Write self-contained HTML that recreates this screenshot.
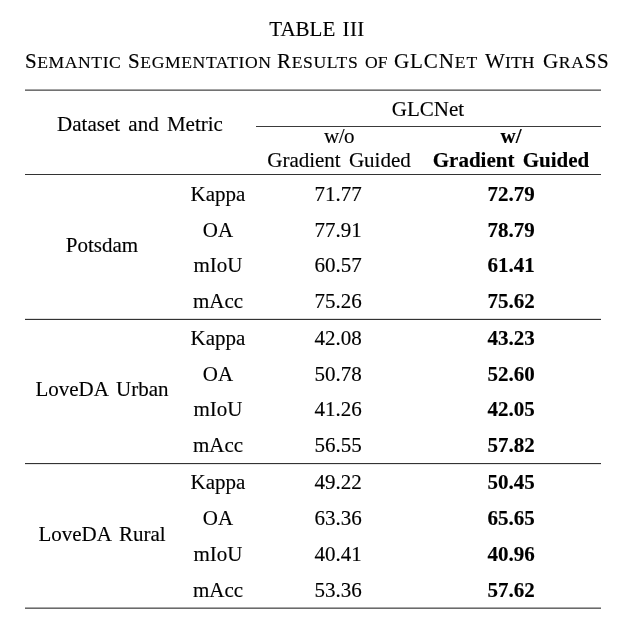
<!DOCTYPE html>
<html><head><meta charset="utf-8"><style>
html,body{margin:0;padding:0;background:#fff;}
body{width:624px;height:634px;position:relative;overflow:hidden;}
.t{position:absolute;will-change:transform;font-family:"Liberation Serif",serif;font-size:21px;line-height:21px;color:#000;text-align:center;white-space:nowrap;word-spacing:3px;-webkit-text-stroke:0.15px #000;}
.sc{font-size:17.6px;}
.r{position:absolute;}
</style></head><body>
<div class="t" style="left:167.10px;top:18.50px;width:300px;">TABLE <span style="letter-spacing:0.4px;margin-left:-1px">III</span></div>
<div class="t" style="left:25.10px;top:50.60px;text-align:left;letter-spacing:0.57px;">S<span class="sc">EMANTIC</span></div>
<div class="t" style="left:127.90px;top:50.60px;text-align:left;letter-spacing:0.61px;">S<span class="sc">EGMENTATION</span></div>
<div class="t" style="left:277.40px;top:50.60px;text-align:left;letter-spacing:0.63px;">R<span class="sc">ESULTS</span></div>
<div class="t" style="left:365.00px;top:50.60px;text-align:left;letter-spacing:0.00px;"><span class="sc">OF</span></div>
<div class="t" style="left:394.30px;top:50.60px;text-align:left;letter-spacing:0.90px;">GLCN<span class="sc">ET</span></div>
<div class="t" style="left:484.60px;top:50.60px;text-align:left;letter-spacing:0.13px;">W<span class="sc">ITH</span></div>
<div class="t" style="left:543.10px;top:50.60px;text-align:left;letter-spacing:0.68px;">G<span class="sc">RA</span>SS</div>
<div class="r" style="left:25px;top:89px;width:576px;height:1px;background:#a4a4a4"></div>
<div class="r" style="left:25px;top:90px;width:576px;height:1px;background:#727272"></div>
<div class="r" style="left:256px;top:126px;width:345px;height:1px;background:#3a3a3a"></div>
<div class="r" style="left:25px;top:174px;width:576px;height:1px;background:#333"></div>
<div class="r" style="left:25px;top:318px;width:576px;height:1px;background:#dedede"></div>
<div class="r" style="left:25px;top:319px;width:576px;height:1px;background:#333"></div>
<div class="r" style="left:25px;top:463px;width:576px;height:1px;background:#333"></div>
<div class="r" style="left:25px;top:464px;width:576px;height:1px;background:#e6e6e6"></div>
<div class="r" style="left:25px;top:607px;width:576px;height:1px;background:#a8a8a8"></div>
<div class="r" style="left:25px;top:608px;width:576px;height:1px;background:#6a6a6a"></div>
<div class="t" style="left:-9.60px;top:113.80px;width:300px;">Dataset and Metric</div>
<div class="t" style="left:278.30px;top:98.70px;width:300px;">GLCNet</div>
<div class="t" style="left:188.90px;top:126.00px;width:300px;letter-spacing:-0.5px;">w/o</div>
<div class="t" style="left:361.00px;top:126.00px;width:300px;font-weight:bold;">w/</div>
<div class="t" style="left:188.80px;top:149.70px;width:300px;">Gradient Guided</div>
<div class="t" style="left:361.10px;top:149.80px;width:300px;font-weight:bold;">Gradient Guided</div>
<div class="t" style="left:-47.80px;top:234.60px;width:300px;">Potsdam</div>
<div class="t" style="left:68.00px;top:184.00px;width:300px;">Kappa</div>
<div class="t" style="left:188.40px;top:184.00px;width:300px;">71.77</div>
<div class="t" style="left:361.00px;top:184.00px;width:300px;font-weight:bold;">72.79</div>
<div class="t" style="left:68.00px;top:220.00px;width:300px;">OA</div>
<div class="t" style="left:188.40px;top:220.00px;width:300px;">77.91</div>
<div class="t" style="left:361.00px;top:220.00px;width:300px;font-weight:bold;">78.79</div>
<div class="t" style="left:68.00px;top:255.00px;width:300px;">mIoU</div>
<div class="t" style="left:188.40px;top:255.00px;width:300px;">60.57</div>
<div class="t" style="left:361.00px;top:255.00px;width:300px;font-weight:bold;">61.41</div>
<div class="t" style="left:68.00px;top:291.00px;width:300px;">mAcc</div>
<div class="t" style="left:188.40px;top:291.00px;width:300px;">75.26</div>
<div class="t" style="left:361.00px;top:291.00px;width:300px;font-weight:bold;">75.62</div>
<div class="t" style="left:-47.80px;top:379.20px;width:300px;">LoveDA Urban</div>
<div class="t" style="left:68.00px;top:328.00px;width:300px;">Kappa</div>
<div class="t" style="left:188.40px;top:328.00px;width:300px;">42.08</div>
<div class="t" style="left:361.00px;top:328.00px;width:300px;font-weight:bold;">43.23</div>
<div class="t" style="left:68.00px;top:364.00px;width:300px;">OA</div>
<div class="t" style="left:188.40px;top:364.00px;width:300px;">50.78</div>
<div class="t" style="left:361.00px;top:364.00px;width:300px;font-weight:bold;">52.60</div>
<div class="t" style="left:68.00px;top:399.00px;width:300px;">mIoU</div>
<div class="t" style="left:188.40px;top:399.00px;width:300px;">41.26</div>
<div class="t" style="left:361.00px;top:399.00px;width:300px;font-weight:bold;">42.05</div>
<div class="t" style="left:68.00px;top:435.00px;width:300px;">mAcc</div>
<div class="t" style="left:188.40px;top:435.00px;width:300px;">56.55</div>
<div class="t" style="left:361.00px;top:435.00px;width:300px;font-weight:bold;">57.82</div>
<div class="t" style="left:-47.80px;top:523.80px;width:300px;">LoveDA Rural</div>
<div class="t" style="left:68.00px;top:472.00px;width:300px;">Kappa</div>
<div class="t" style="left:188.40px;top:472.00px;width:300px;">49.22</div>
<div class="t" style="left:361.00px;top:472.00px;width:300px;font-weight:bold;">50.45</div>
<div class="t" style="left:68.00px;top:508.00px;width:300px;">OA</div>
<div class="t" style="left:188.40px;top:508.00px;width:300px;">63.36</div>
<div class="t" style="left:361.00px;top:508.00px;width:300px;font-weight:bold;">65.65</div>
<div class="t" style="left:68.00px;top:544.00px;width:300px;">mIoU</div>
<div class="t" style="left:188.40px;top:544.00px;width:300px;">40.41</div>
<div class="t" style="left:361.00px;top:544.00px;width:300px;font-weight:bold;">40.96</div>
<div class="t" style="left:68.00px;top:580.00px;width:300px;">mAcc</div>
<div class="t" style="left:188.40px;top:580.00px;width:300px;">53.36</div>
<div class="t" style="left:361.00px;top:580.00px;width:300px;font-weight:bold;">57.62</div>
</body></html>
